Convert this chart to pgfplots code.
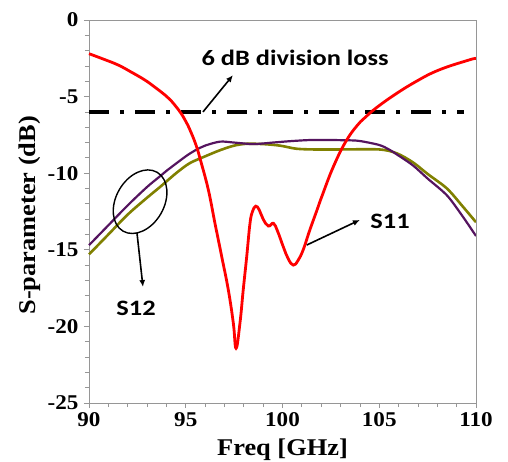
\documentclass[border=0pt]{standalone}
\usepackage{pgfplots}
\pgfplotsset{compat=1.18}
\usepackage{fontspec}
\setmainfont[FakeStretch=1.1]{Liberation Serif}
\newfontfamily\calfont[FakeStretch=1.2]{Carlito}
\usetikzlibrary{shapes.geometric,arrows.meta}
\definecolor{spurple}{RGB}{85,20,95}
\definecolor{solive}{RGB}{128,128,0}
\definecolor{axgray}{RGB}{150,150,150}
\begin{document}
\begin{tikzpicture}
\begin{axis}[
  name=ax,
  at={(0,0)}, anchor=south west,
  scale only axis,
  width=387pt, height=383pt,
  xmin=90, xmax=110, ymin=-25, ymax=0,
  xtick={90,95,...,110}, ytick={-25,-20,...,0},
  minor x tick num=4, minor y tick num=4,
  xtick pos=left, ytick pos=left,
  tick align=outside,
  major tick length=5pt, minor tick length=4pt,
  axis line style={axgray, line width=0.8pt},
  every tick/.style={axgray, line width=0.8pt},
  /pgf/number format/assume math mode=true,
  tick label style={font=\bfseries\fontsize{21}{21}\selectfont},
  xticklabel style={yshift=-1pt},
  yticklabel style={xshift=-2pt},
  xlabel={Freq [GHz]}, ylabel={S-parameter (dB)},
  label style={font=\bfseries\fontsize{24}{24}\selectfont},
  xlabel style={at={(axis description cs:0.5,-0.123)}, anchor=center},
  ylabel style={at={(axis description cs:-0.152,0.49)}, anchor=center},
  clip=false,
]
% dash-dot 6 dB line
\addplot[black, line width=3.5pt, dash pattern=on 20pt off 11pt on 4pt off 11pt] coordinates {(90,-6) (109.4,-6)};
% S12 olive
\addplot[solive, line width=2.6pt, smooth] coordinates {
(90,-15.3) (91,-14.0) (92,-12.7) (93,-11.6) (93.67,-10.9) (94.5,-10.0) (95.2,-9.35) (96,-8.9) (96.77,-8.5) (97.5,-8.2) (98.15,-8.08) (99.0,-8.1) (99.87,-8.2) (100.7,-8.4) (101.6,-8.45) (103,-8.45) (105,-8.45) (105.9,-8.7) (106.75,-9.3) (107.5,-10.05) (108.5,-11.0) (109.3,-12.15) (110,-13.2)};
% S12 purple
\addplot[spurple, line width=2.2pt, smooth] coordinates {
(90,-14.7) (91,-13.4) (92,-12.1) (93,-10.9) (93.67,-10.2) (94,-9.85) (95,-8.9) (95.5,-8.5) (96,-8.2) (96.77,-7.94) (97.5,-8.0) (98.5,-8.1) (99.5,-8.0) (100.5,-7.9) (101.6,-7.83) (103.3,-7.85) (104,-7.9) (105,-8.16) (105.5,-8.45) (106,-8.85) (106.75,-9.5) (107.5,-10.35) (108.5,-11.45) (109.3,-12.8) (110,-14.1)};
% S11 red
\addplot[red, line width=2.8pt, smooth, tension=0.7] coordinates {
(90,-2.2) (90.74,-2.55) (91.51,-2.94) (92.17,-3.39) (92.89,-3.92) (93.42,-4.4) (93.93,-4.9) (94.21,-5.22) (94.7,-5.99) (94.99,-6.59) (95.22,-7.18) (95.53,-8.16) (95.76,-9.14) (96.17,-11.1) (96.51,-13.27) (96.86,-15.45) (97.2,-17.62) (97.46,-19.8) (97.6,-21.43) (97.8,-19.8) (97.97,-17.62) (98.15,-15.45) (98.32,-13.27) (98.45,-12.5) (98.62,-12.15) (98.8,-12.4) (99.0,-13.0) (99.27,-13.45) (99.53,-13.27) (99.75,-13.8) (100.04,-14.8) (100.3,-15.6) (100.56,-16.0) (100.8,-15.7) (101.07,-15.0) (101.4,-13.75) (101.77,-12.45) (102.03,-11.53) (102.63,-9.57) (103.32,-7.83) (104.03,-6.64) (104.59,-5.99) (105.64,-5.01) (106.88,-4.03) (108.09,-3.26) (109.64,-2.61) (110,-2.51)};
% annotations
\node[font=\calfont\bfseries\fontsize{22}{22}\selectfont] at (axis cs:100.65,-2.5) {6 dB division loss};
\draw[black, line width=1.6pt, -{Latex[length=7pt,width=6pt]}] (axis cs:95.89,-6.0) -- (axis cs:97.44,-3.6);
\node[font=\calfont\bfseries\fontsize{22}{22}\selectfont] at (axis cs:105.56,-13.15) {S11};
\draw[black, line width=1.6pt, -{Latex[length=7pt,width=6pt]}] (axis cs:101.25,-14.69) -- (axis cs:104.0,-13.05);
\node[draw=black, line width=1.4pt, ellipse, rotate=60, minimum width=68pt, minimum height=48pt, inner sep=0pt] at (axis cs:92.64,-11.86) {};
\draw[black, line width=1.6pt, -{Latex[length=7pt,width=6pt]}] (axis cs:92.48,-13.9) -- (axis cs:92.79,-17.43);
\node[font=\calfont\bfseries\fontsize{22}{22}\selectfont] at (axis cs:92.43,-18.8) {S12};
% frame top and right
\draw[axgray, line width=0.8pt] (axis cs:90,0) -- (axis cs:110,0) -- (axis cs:110,-25);
\end{axis}
\pgfresetboundingbox
\path ([shift={(-89pt,-58pt)}]ax.south west) rectangle ([shift={(419pt,403pt)}]ax.south west);
\end{tikzpicture}
\end{document}
